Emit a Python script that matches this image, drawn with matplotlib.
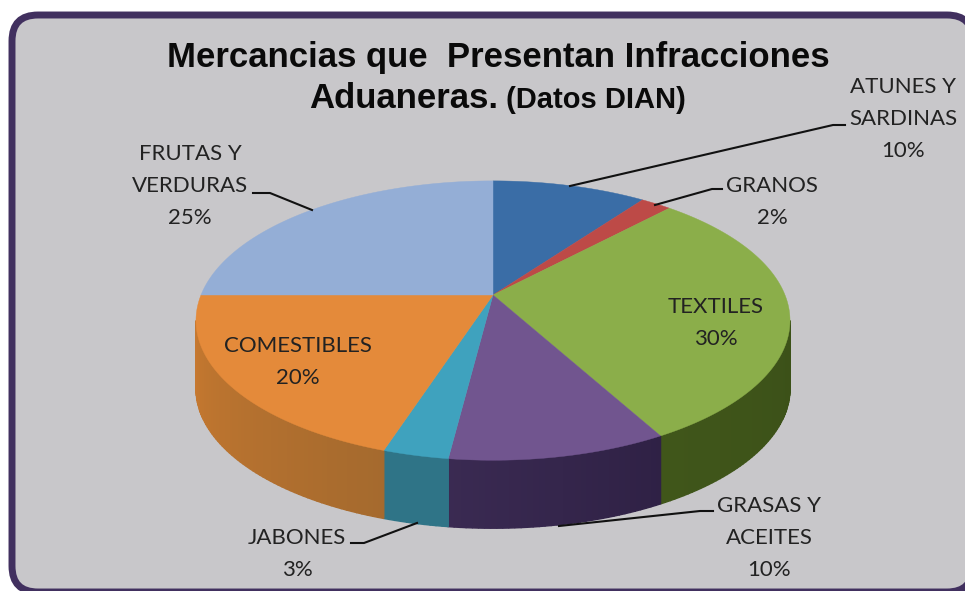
import matplotlib
matplotlib.use("Agg")
import matplotlib.pyplot as plt
import numpy as np
from matplotlib.patches import FancyBboxPatch

categories = ["ATUNES Y\nSARDINAS", "GRANOS", "TEXTILES", "GRASAS Y\nACEITES",
              "JABONES", "COMESTIBLES", "FRUTAS Y\nVERDURAS"]
values = [10, 2, 30, 10, 3, 20, 25]

top_colors = ["#3A6DA6", "#BD4A47", "#8BAE4A", "#71558F", "#3FA2BE", "#E48A3A", "#94AED6"]
side_start = ["#27486E", "#7E312F", "#364A16", "#2F2145", "#2F7487", "#A56A2E", "#62748E"]
side_end = ["#27486E", "#7E312F", "#40561A", "#3A2A52", "#2F7487", "#CC7B30", "#62748E"]

label_xy = [(903, 119), (772, 202), (716, 323), (769, 538), (297, 554), (298, 362), (190, 186)]
label_lines = [
    [(570, 186), (833, 125), (845, 125)],
    [(655, 205), (712, 189), (722, 189)],
    None,
    [(559, 526), (700, 511), (713, 511)],
    [(417, 523), (364, 543), (351, 543)],
    None,
    [(312, 210), (270, 193), (253, 193)],
]

CX, CY = 493, 295
RX, RY = 292, 135
PERSP = 0.183
DEPTH = 68


def project(theta, r=1.0):
    # clockwise from 12 o'clock, far side of the disc shrinks a bit
    x = r * np.sin(theta)
    y = r * np.cos(theta)
    w = 1 + PERSP * y
    return CX + RX * x / w, CY - RY * y / w


def blend(c1, c2, t):
    a = np.array(matplotlib.colors.to_rgb(c1))
    b = np.array(matplotlib.colors.to_rgb(c2))
    return tuple(a + (b - a) * t)


fig = plt.figure(figsize=(9.65, 5.91), dpi=100)
ax = fig.add_axes([0, 0, 1, 1])
ax.set_xlim(0, 965)
ax.set_ylim(591, 0)
ax.axis("off")

ax.add_patch(FancyBboxPatch((12, 15), 961, 577, boxstyle="round,pad=0,rounding_size=26",
                            facecolor="#C8C7CA", edgecolor="#41305F", linewidth=5))

edges = np.cumsum([0] + values) / sum(values) * 2 * np.pi

# walls first, then the top of the disc
for i in range(len(values)):
    t0, t1 = edges[i], edges[i + 1]
    steps = np.linspace(t0, t1, max(int((t1 - t0) * 60), 2) + 1)
    for j in range(len(steps) - 1):
        if np.cos((steps[j] + steps[j + 1]) / 2) > -PERSP:
            continue
        xa, ya = project(steps[j])
        xb, yb = project(steps[j + 1])
        frac = (j + 0.5) / (len(steps) - 1)
        col = blend(side_start[i], side_end[i], frac)
        ax.fill([xa, xb, xb, xa], [ya, yb, yb + DEPTH, ya + DEPTH], color=col, lw=1.0)

for i in range(len(values)):
    t = np.linspace(edges[i], edges[i + 1], 120)
    xs, ys = project(t)
    ax.fill(np.r_[CX, xs], np.r_[CY, ys], color=top_colors[i], lw=0.3)

label_font = ["Lato", "Open Sans", "DejaVu Sans"]
for name, val, (lx, ly) in zip(categories, values, label_xy):
    ax.text(lx, ly, f"{name}\n{val}%", ha="center", va="center", fontsize=16,
            family=label_font, color="#222222", linespacing=1.75)

for pts in label_lines:
    if pts is None:
        continue
    xs, ys = zip(*pts)
    ax.plot(xs, ys, color="#111111", lw=1.5)

title_font = ["Liberation Sans", "DejaVu Sans"]
ax.text(498, 67, "Mercancias que  Presentan Infracciones", ha="center", va="baseline",
        fontsize=25, fontweight="bold", family=title_font, color="#0A0A0A")
ax.text(309, 108, "Aduaneras.", ha="left", va="baseline", fontsize=25,
        fontweight="bold", family=title_font, color="#0A0A0A")
ax.text(506, 108, "(Datos DIAN)", ha="left", va="baseline", fontsize=21,
        fontweight="bold", family=title_font, color="#0A0A0A")

fig.savefig("out.png", dpi=100, facecolor="white")
